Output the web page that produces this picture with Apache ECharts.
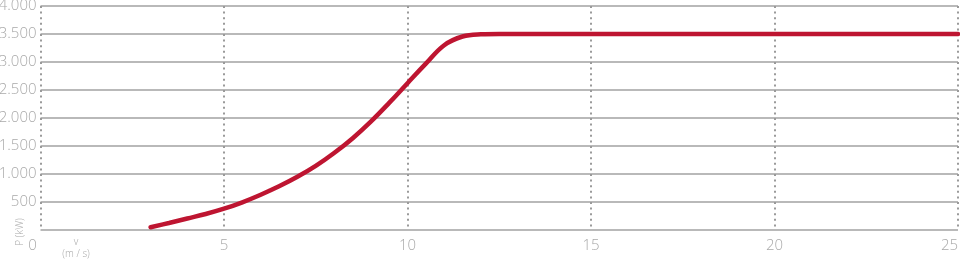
<!DOCTYPE html>
<html>
<head>
<meta charset="utf-8">
<script src="https://cdn.jsdelivr.net/npm/echarts@6/dist/echarts.min.js"></script>
<style>
  html, body { margin: 0; padding: 0; background: #fff; }
  #chart { width: 960px; height: 265px; }
</style>
</head>
<body>
<div id="chart"></div>
<script>
// power curve: wind speed (m/s) -> power (kW)
const windSpeeds = [3, 3.5, 4, 4.5, 5, 5.5, 6, 6.5, 7, 7.5, 8, 8.5, 9, 9.5, 10, 10.5, 11, 11.5, 12, 12.5, 13, 14, 15, 16, 17, 18, 19, 20, 21, 22, 23, 24, 25];
const powerValues = [50, 125, 205, 285, 380, 495, 630, 780, 950, 1145, 1375, 1635, 1935, 2270, 2622, 2970, 3300, 3455, 3494, 3500, 3500, 3500, 3500, 3500, 3500, 3500, 3500, 3500, 3500, 3500, 3500, 3500, 3500];

const xTicks = [0, 5, 10, 15, 20, 25];
const yTicks = [0, 500, 1000, 1500, 2000, 2500, 3000, 3500, 4000];

const labelColor = '#a9a9a9';
const fontFamily = '"Open Sans", "Noto Sans", sans-serif';

const fmtThousands = v => String(v).replace(/\B(?=(\d{3})+(?!\d))/g, '.');

const chart = echarts.init(document.getElementById('chart'));

chart.setOption({
  animation: false,
  grid: { left: 40.5, right: 2, top: 6, bottom: 35, outerBoundsMode: 'none', containLabel: false },
  xAxis: {
    type: 'value',
    min: xTicks[0],
    max: xTicks[xTicks.length - 1],
    interval: 5,
    axisLine: { show: false },
    axisTick: { show: false },
    splitLine: {
      show: true,
      lineStyle: { color: '#9a9a9a', width: 2, type: [2, 3.6] }
    },
    axisLabel: {
      color: labelColor,
      fontFamily: fontFamily,
      fontWeight: 300,
      fontSize: 15,
      margin: 8,
      alignMaxLabel: 'right',
      formatter: v => (v === 0 ? '{z|0}' : String(v)),
      rich: {
        z: { color: labelColor, fontFamily: fontFamily, fontWeight: 300, fontSize: 15, padding: [0, 16, 0, 0] }
      }
    }
  },
  yAxis: {
    type: 'value',
    min: yTicks[0],
    max: yTicks[yTicks.length - 1],
    interval: 500,
    axisLine: { show: false },
    axisTick: { show: false },
    splitLine: {
      show: true,
      lineStyle: { color: '#b9b9b9', width: 2 }
    },
    axisLabel: {
      color: labelColor,
      fontFamily: fontFamily,
      fontWeight: 300,
      fontSize: 15,
      margin: 4,
      formatter: v => (v === 0 ? '' : fmtThousands(v))
    }
  },
  graphic: [
    {
      type: 'text',
      x: 20, y: 232,
      rotation: Math.PI / 2,
      style: {
        text: 'P (kW)', fill: labelColor, font: '300 10px ' + fontFamily,
        align: 'center', verticalAlign: 'middle'
      }
    },
    {
      type: 'text',
      x: 76, y: 242,
      style: {
        text: 'v', fill: labelColor, font: '300 10px ' + fontFamily,
        align: 'center', verticalAlign: 'middle'
      }
    },
    {
      type: 'text',
      x: 76, y: 254,
      style: {
        text: '(m / s)', fill: labelColor, font: '300 10px ' + fontFamily,
        align: 'center', verticalAlign: 'middle'
      }
    }
  ],
  series: [{
    type: 'line',
    data: windSpeeds.map((v, i) => [v, powerValues[i]]),
    smooth: 0.4,
    showSymbol: false,
    lineStyle: { color: '#be1531', width: 4.5, cap: 'round' }
  }]
});
</script>
</body>
</html>
